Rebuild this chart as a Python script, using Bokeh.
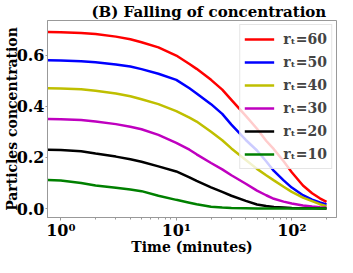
from bokeh.plotting import figure
from bokeh.models import Range1d, Legend, LegendItem, FixedTicker, PrintfTickFormatter
from bokeh.embed import file_html
from bokeh.resources import INLINE

# Time (minutes)
times = [0.77, 1, 1.5, 2, 3, 4, 5, 7, 10, 13, 15, 20, 25, 30, 40, 50, 60, 70, 85,
         100, 125, 150, 175, 200]

conc_rt60 = [0.690, 0.689, 0.686, 0.682, 0.672, 0.662, 0.650, 0.630, 0.598, 0.565,
             0.546, 0.503, 0.465, 0.425, 0.362, 0.312, 0.265, 0.232, 0.185,
             0.142, 0.090, 0.060, 0.040, 0.026]
conc_rt50 = [0.580, 0.579, 0.576, 0.572, 0.563, 0.555, 0.545, 0.527, 0.503, 0.470,
             0.450, 0.408, 0.370, 0.328, 0.268, 0.227, 0.185, 0.147, 0.110,
             0.082, 0.052, 0.035, 0.024, 0.016]
conc_rt40 = [0.470, 0.469, 0.466, 0.460, 0.450, 0.439, 0.427, 0.408, 0.381, 0.355,
             0.340, 0.300, 0.267, 0.235, 0.190, 0.155, 0.130, 0.110, 0.085,
             0.065, 0.043, 0.029, 0.017, 0.009]
conc_rt30 = [0.350, 0.349, 0.346, 0.340, 0.330, 0.320, 0.310, 0.288, 0.257, 0.230,
             0.212, 0.178, 0.153, 0.130, 0.097, 0.070, 0.052, 0.038, 0.027,
             0.020, 0.012, 0.008, 0.005, 0.003]
conc_rt20 = [0.230, 0.229, 0.224, 0.215, 0.203, 0.193, 0.183, 0.165, 0.145, 0.122,
             0.108, 0.083, 0.065, 0.050, 0.030, 0.016, 0.010, 0.006, 0.004,
             0.002, 0.001, 0.001, 0.000, 0.000]
conc_rt10 = [0.112, 0.110, 0.100, 0.090, 0.081, 0.074, 0.068, 0.050, 0.034, 0.023,
             0.017, 0.007, 0.004, 0.002, 0.001, 0.000, 0.000, 0.000, 0.000,
             0.000, 0.000, 0.000, 0.000, 0.000]

series = [conc_rt60, conc_rt50, conc_rt40, conc_rt30, conc_rt20, conc_rt10]
labels = ["r\u209c=60", "r\u209c=50", "r\u209c=40", "r\u209c=30", "r\u209c=20", "r\u209c=10"]
colors = ["#ff0000", "#0000ff", "#bfbf00", "#bf00bf", "#000000", "#008000"]

y_ticks = [0.0, 0.2, 0.4, 0.6]
x_ticks = [1, 10, 100]
x_tick_labels = {1: "10\u2070", 10: "10\u00b9", 100: "10\u00b2"}
x_minor = [2, 3, 4, 5, 6, 7, 8, 9, 20, 30, 40, 50, 60, 70, 80, 90, 200]

FONT = "DejaVu Serif"
GREY = "#999999"

p = figure(width=337, height=257, x_axis_type="log",
           x_range=Range1d(0.767, 244), y_range=Range1d(-0.035, 0.735),
           output_backend="svg", toolbar_location=None,
           min_border_left=0, min_border_right=1, min_border_top=0, min_border_bottom=0)

p.title.text = "(B) Falling of concentration"
p.title.text_font = FONT
p.title.text_font_style = "bold"
p.title.text_font_size = "15px"
p.title.text_color = "black"
p.title.align = "left"
p.title.offset = 44
p.title.standoff = 0

p.grid.visible = False
p.outline_line_color = GREY
p.background_fill_color = "white"
p.border_fill_color = "white"

for ax in (p.xaxis, p.yaxis):
    ax.axis_line_color = GREY
    ax.major_tick_line_color = GREY
    ax.minor_tick_line_color = GREY
    ax.major_tick_in = 0
    ax.minor_tick_in = 0
    ax.major_label_text_font = FONT
    ax.major_label_text_font_style = "bold"
    ax.major_label_text_font_size = "16px"
    ax.major_label_text_color = "black"
    ax.axis_label_text_font = FONT
    ax.axis_label_text_font_style = "bold"
    ax.axis_label_text_font_size = "14px"
    ax.axis_label_text_color = "black"

p.yaxis.ticker = FixedTicker(ticks=y_ticks, minor_ticks=[])
p.yaxis.formatter = PrintfTickFormatter(format="%.1f")
p.yaxis.major_tick_out = 2
p.yaxis.major_label_standoff = 1
p.yaxis.axis_label = "Particles concentration"
p.yaxis.axis_label_standoff = -6

p.xaxis.ticker = FixedTicker(ticks=x_ticks, minor_ticks=x_minor)
p.xaxis.major_label_overrides = x_tick_labels
p.xaxis.major_tick_out = 3
p.xaxis.minor_tick_out = 2
p.xaxis.major_label_standoff = 0
p.xaxis.axis_label = "Time (minutes)"
p.xaxis.axis_label_standoff = -4

items = []
for vals, lab, col in zip(series, labels, colors):
    r = p.line(times, vals, line_color=col, line_width=2.5)
    items.append(LegendItem(label=lab, renderers=[r]))

legend = Legend(items=items, location="top_right", margin=4, padding=4, spacing=3,
                label_standoff=9, glyph_width=30, glyph_height=20, label_height=20,
                label_text_font=FONT, label_text_font_style="bold",
                label_text_font_size="14px", border_line_color="#cccccc",
                background_fill_alpha=0.8)
p.add_layout(legend)

open("out.html", "w").write(file_html(p, INLINE))
